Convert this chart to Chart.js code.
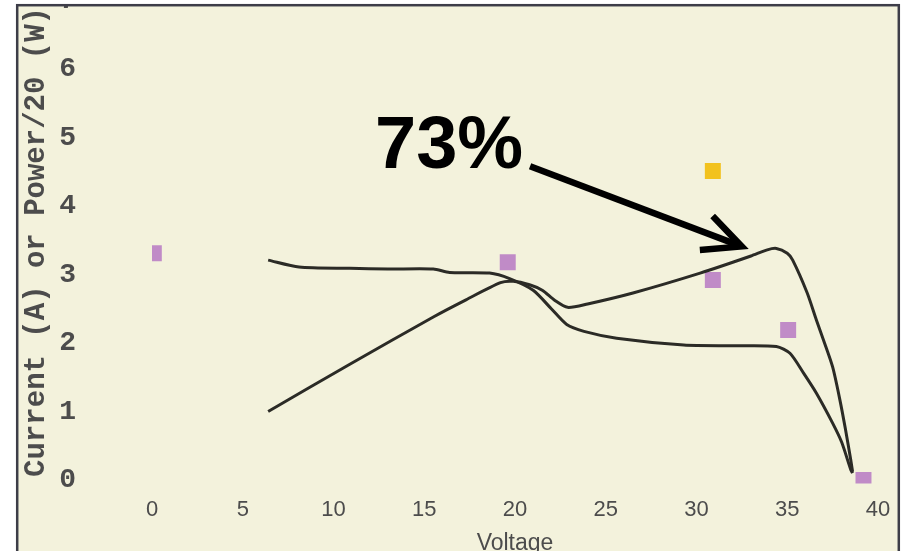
<!DOCTYPE html>
<html>
<head>
<meta charset="utf-8">
<script src="https://cdn.jsdelivr.net/npm/chart.js@4/dist/chart.umd.min.js"></script>
<style>
  html, body { margin: 0; padding: 0; background: #ffffff; }
  #wrap { width: 907px; height: 551px; }
</style>
</head>
<body>
<div id="wrap"><canvas id="c" width="907" height="551"></canvas></div>
<script>
// I-V sweep of the panel: current (A) against voltage
const currentVolts = [6.4, 8.1, 10.9, 13.0, 15.5, 16.4, 18.6, 19.7, 21.0, 22.0, 22.85, 23.8, 25.6, 29.3, 32.0, 34.4, 35.15, 35.9, 36.6, 37.5, 38.0, 38.5, 38.6];
const currentAmps  = [3.21, 3.11, 3.09, 3.08, 3.08, 3.03, 3.02, 2.94, 2.77, 2.50, 2.27, 2.17, 2.07, 1.97, 1.96, 1.95, 1.85, 1.56, 1.27, 0.83, 0.55, 0.15, 0.10];

// P-V sweep of the panel: power / 20 (W) against voltage
const powerVolts = [6.4, 10.9, 15.5, 17.3, 19.2, 19.9, 20.8, 21.5, 22.2, 22.9, 24.0, 26.5, 30.2, 33.0, 33.9, 34.4, 35.0, 35.3, 36.1, 36.6, 37.0, 37.5, 37.9, 38.2, 38.5, 38.6];
const powerOver20 = [1.00, 1.69, 2.38, 2.63, 2.88, 2.90, 2.85, 2.77, 2.62, 2.52, 2.57, 2.73, 3.02, 3.27, 3.36, 3.38, 3.31, 3.21, 2.73, 2.34, 2.04, 1.65, 1.17, 0.75, 0.29, 0.12];

// Measured points (purple) and the single highlighted point (gold)
const measuredVolts = [0.1, 19.6, 30.9, 35.05, 39.2];
const measuredVals  = [3.31, 3.18, 2.92, 2.19, 0];
const highlightVolts = [30.9];
const highlightVals  = [4.51];

// Axis ranges and ticks
const xRange = { min: 0, max: 40, step: 5 };
const yRange = { min: -0.05, max: 7, step: 1 };

// Efficiency callout: label and arrow, in data coordinates
const calloutText = '73%';
const calloutAt = { x: 12.29, y: 4.55 };
const arrowFrom = { x: 20.83, y: 4.58 };
const arrowTo   = { x: 32.49, y: 3.41 };

const pairs = (xs, ys) => xs.map((x, i) => ({ x, y: ys[i] }));

const CREAM = '#F3F2DC';
const INK = '#2b2b26';
const TEXT = '#4c4c4c';

const framePlugin = {
  id: 'frame',
  beforeDraw(chart) {
    const ctx = chart.ctx;
    ctx.save();
    ctx.fillStyle = '#ffffff';
    ctx.fillRect(0, 0, chart.width, chart.height);
    ctx.fillStyle = CREAM;
    ctx.fillRect(16, 4, 884, chart.height);
    ctx.restore();
  },
  afterDraw(chart) {
    const ctx = chart.ctx;
    ctx.save();
    ctx.fillStyle = '#ffffff';
    ctx.fillRect(0, 0, chart.width, 4);
    ctx.fillRect(0, 0, 16, chart.height);
    ctx.fillRect(900, 0, chart.width - 900, chart.height);
    ctx.strokeStyle = '#3d3d48';
    ctx.lineWidth = 2.5;
    ctx.strokeRect(17.2, 5.2, 881.6, chart.height + 10);
    ctx.restore();
  }
};

const calloutPlugin = {
  id: 'callout',
  afterDatasetsDraw(chart) {
    const { ctx, scales: { x, y } } = chart;
    ctx.save();
    ctx.fillStyle = '#000000';
    ctx.font = 'bold 74px "Liberation Sans", Arial, sans-serif';
    ctx.textBaseline = 'alphabetic';
    ctx.textAlign = 'left';
    ctx.fillText(calloutText, x.getPixelForValue(calloutAt.x), y.getPixelForValue(calloutAt.y));

    const x0 = x.getPixelForValue(arrowFrom.x), y0 = y.getPixelForValue(arrowFrom.y);
    const x1 = x.getPixelForValue(arrowTo.x),   y1 = y.getPixelForValue(arrowTo.y);
    const ang = Math.atan2(y1 - y0, x1 - x0);
    const head = 42, spread = 25.5 * Math.PI / 180;
    ctx.strokeStyle = '#000000';
    ctx.lineWidth = 6.5;
    ctx.lineCap = 'butt';
    ctx.beginPath();
    ctx.moveTo(x0, y0);
    ctx.lineTo(x1 - 3 * Math.cos(ang), y1 - 3 * Math.sin(ang));
    ctx.stroke();
    ctx.lineJoin = 'miter';
    ctx.beginPath();
    ctx.moveTo(x1 - head * Math.cos(ang - spread), y1 - head * Math.sin(ang - spread));
    ctx.lineTo(x1, y1);
    ctx.lineTo(x1 - head * Math.cos(ang + spread), y1 - head * Math.sin(ang + spread));
    ctx.stroke();
    ctx.restore();
  }
};

const curveStyle = {
  showLine: true,
  borderColor: INK,
  borderWidth: 3,
  pointRadius: 0,
  pointHoverRadius: 0,
  tension: 0.25,
  fill: false
};

new Chart(document.getElementById('c'), {
  type: 'scatter',
  data: {
    datasets: [
      { label: 'Power/20', data: pairs(powerVolts, powerOver20), ...curveStyle },
      { label: 'Current', data: pairs(currentVolts, currentAmps), ...curveStyle },
      {
        label: 'Measured',
        data: pairs(measuredVolts, measuredVals),
        pointStyle: 'rect',
        pointRadius: 11.3,
        backgroundColor: '#C08BC7',
        borderWidth: 0,
        clip: 0
      },
      {
        label: 'Highlighted',
        data: pairs(highlightVolts, highlightVals),
        pointStyle: 'rect',
        pointRadius: 11.3,
        backgroundColor: '#F2C21E',
        borderWidth: 0,
        clip: 0
      }
    ]
  },
  options: {
    responsive: false,
    animation: false,
    events: [],
    layout: { autoPadding: false, padding: { left: 0, right: 29, top: 0.5, bottom: 0 } },
    plugins: { legend: { display: false }, tooltip: { enabled: false } },
    scales: {
      x: {
        type: 'linear',
        min: xRange.min,
        max: xRange.max,
        grid: { display: false, drawTicks: false },
        border: { display: false },
        ticks: {
          stepSize: xRange.step,
          includeBounds: false,
          padding: 13,
          maxRotation: 0,
          color: TEXT,
          font: { family: '"Liberation Sans", Arial, sans-serif', size: 22 }
        },
        title: {
          display: true,
          text: 'Voltage',
          color: TEXT,
          padding: { top: 0, bottom: -4 },
          font: { family: '"Liberation Sans", Arial, sans-serif', size: 23, lineHeight: 1.0 }
        },
        afterFit(scale) {
          scale.height = 67.6;
          scale.paddingLeft = 0;
          scale.paddingRight = 0;
        }
      },
      y: {
        type: 'linear',
        min: yRange.min,
        max: yRange.max,
        grid: { display: false, drawTicks: false },
        border: { display: false },
        ticks: {
          stepSize: yRange.step,
          includeBounds: false,
          padding: 76,
          color: TEXT,
          font: { family: '"Liberation Mono", "Courier New", monospace', size: 28, weight: 'bold' }
        },
        title: {
          display: true,
          text: 'Current (A) or Power/20 (W)',
          color: TEXT,
          padding: { top: 19, bottom: 0 },
          font: { family: '"Liberation Mono", "Courier New", monospace', size: 29, weight: 'bold', lineHeight: 1.2 }
        },
        afterFit(scale) {
          scale.width = 152;
          scale.paddingTop = 0;
          scale.paddingBottom = 0;
        }
      }
    }
  },
  plugins: [framePlugin, calloutPlugin]
});
</script>
</body>
</html>
